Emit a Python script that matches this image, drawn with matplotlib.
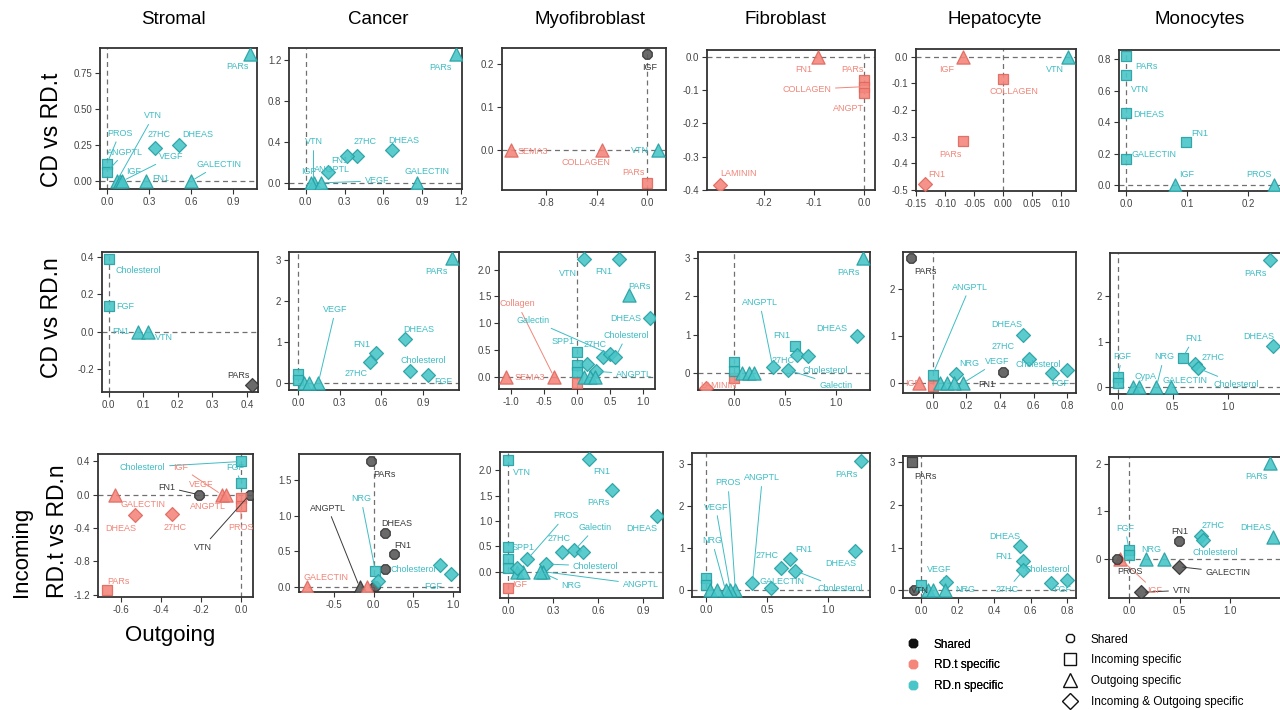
import matplotlib
matplotlib.use("Agg")
import matplotlib.pyplot as plt
from matplotlib.lines import Line2D

plt.rcParams['font.family'] = ['Liberation Sans', 'DejaVu Sans']
plt.rcParams['axes.unicode_minus'] = False

cell_types = ["Stromal", "Cancer", "Myofibroblast", "Fibroblast", "Hepatocyte", "Monocytes"]
comparisons = ["CD vs RD.t", "CD vs RD.n", "RD.t vs RD.n"]

# point rows: (signal, outgoing, incoming, group, kind)
# group: s = shared, t = RD.t specific, n = RD.n specific
# kind: sh = shared, in = incoming specific, out = outgoing specific, io = incoming & outgoing
stromal_t = [("PARs", 1.02, 0.88, 'n', 'out'), ("DHEAS", 0.51, 0.25, 'n', 'io'),
             ("27HC", 0.34, 0.23, 'n', 'io'), ("VTN", 0.07, 0.0, 'n', 'out'),
             ("IGF", 0.09, 0.0, 'n', 'out'), ("VEGF", 0.11, 0.0, 'n', 'out'),
             ("FN1", 0.28, 0.0, 'n', 'out'), ("GALECTIN", 0.60, 0.0, 'n', 'out'),
             ("PROS", 0.0, 0.12, 'n', 'in'), ("ANGPTL", 0.0, 0.065, 'n', 'in')]
cancer_t = [("PARs", 1.16, 1.26, 'n', 'out'), ("DHEAS", 0.67, 0.32, 'n', 'io'),
            ("27HC", 0.40, 0.26, 'n', 'io'), ("FN1", 0.32, 0.26, 'n', 'io'),
            ("ANGPTL", 0.17, 0.11, 'n', 'io'), ("VTN", 0.06, 0.0, 'n', 'out'),
            ("IGF", 0.04, 0.0, 'n', 'out'), ("VEGF", 0.12, 0.0, 'n', 'out'),
            ("GALECTIN", 0.86, 0.0, 'n', 'out')]
myo_t = [("IGF", 0.0, 0.221, 's', 'sh'), ("SEMA3", -1.08, 0.0, 't', 'out'),
         ("COLLAGEN", -0.36, 0.0, 't', 'out'), ("VTN", 0.087, 0.0, 'n', 'out'),
         ("PARs", 0.0, -0.076, 't', 'in')]
fib_t = [("FN1", -0.092, 0.0, 't', 'out'), ("PARs", 0.0, -0.07, 't', 'in'),
         ("COLLAGEN", 0.0, -0.09, 't', 'in'), ("ANGPT", 0.0, -0.11, 't', 'in'),
         ("LAMININ", -0.286, -0.384, 't', 'io')]
hep_t = [("IGF", -0.07, 0.0, 't', 'out'), ("VTN", 0.112, 0.0, 'n', 'out'),
         ("COLLAGEN", 0.0, -0.084, 't', 'in'), ("PARs", -0.069, -0.316, 't', 'in'),
         ("FN1", -0.135, -0.478, 't', 'io')]
mono_t = [("PARs", 0.0, 0.822, 'n', 'in'), ("VTN", 0.0, 0.70, 'n', 'in'),
          ("DHEAS", 0.0, 0.46, 'n', 'in'), ("FN1", 0.098, 0.275, 'n', 'in'),
          ("GALECTIN", 0.0, 0.165, 'n', 'in'), ("IGF", 0.079, 0.0, 'n', 'out'),
          ("PROS", 0.242, 0.0, 'n', 'out')]

stromal_n = [("Cholesterol", 0.0, 0.39, 'n', 'in'), ("FGF", 0.0, 0.137, 'n', 'in'),
             ("FN1", 0.084, 0.0, 'n', 'out'), ("VTN", 0.115, 0.0, 'n', 'out'),
             ("PARs", 0.415, -0.284, 's', 'io')]
cancer_n = [("PARs", 1.11, 3.05, 'n', 'out'), ("DHEAS", 0.77, 1.09, 'n', 'io'),
            ("FN1", 0.56, 0.73, 'n', 'io'), ("27HC", 0.52, 0.52, 'n', 'io'),
            ("Cholesterol", 0.81, 0.30, 'n', 'io'), ("FGF", 0.94, 0.20, 'n', 'io'),
            ("VEGF", 0.145, 0.0, 'n', 'out'), ("", 0.0, 0.24, 'n', 'in'),
            ("", 0.0, 0.08, 'n', 'in'), ("", 0.04, 0.0, 'n', 'out'), ("", 0.08, 0.0, 'n', 'out')]
myo_n = [("VTN", 0.10, 2.19, 'n', 'io'), ("FN1", 0.63, 2.20, 'n', 'io'),
         ("PARs", 0.79, 1.53, 'n', 'out'), ("DHEAS", 1.11, 1.09, 'n', 'io'),
         ("SEMA3", -1.07, 0.0, 't', 'out'), ("Collagen", -0.35, 0.0, 't', 'out'),
         ("27HC", 0.40, 0.37, 'n', 'io'), ("Galectin", 0.50, 0.42, 'n', 'io'),
         ("Cholesterol", 0.58, 0.36, 'n', 'io'), ("SPP1", 0.0, 0.47, 'n', 'in'),
         ("ANGPTL", 0.29, 0.10, 'n', 'io'), ("", 0.15, 0.24, 'n', 'io'),
         ("", 0.0, 0.22, 'n', 'in'), ("", 0.0, 0.09, 'n', 'in'), ("", 0.0, -0.12, 't', 'in'),
         ("", 0.10, 0.0, 'n', 'out'), ("", 0.20, 0.0, 'n', 'out'), ("", 0.27, 0.0, 'n', 'out')]
fib_n = [("PARs", 1.27, 3.0, 'n', 'out'), ("DHEAS", 1.21, 0.96, 'n', 'io'),
         ("FN1", 0.60, 0.72, 'n', 'in'), ("27HC", 0.62, 0.48, 'n', 'io'),
         ("Cholesterol", 0.73, 0.44, 'n', 'io'), ("Galectin", 0.53, 0.08, 'n', 'io'),
         ("ANGPTL", 0.38, 0.15, 'n', 'io'), ("LAMININ", -0.28, -0.38, 't', 'io'),
         ("", 0.0, -0.12, 't', 'in'), ("", 0.0, 0.28, 'n', 'in'), ("", 0.0, 0.06, 'n', 'in'),
         ("", 0.07, 0.0, 'n', 'out'), ("", 0.14, 0.0, 'n', 'out'), ("", 0.19, 0.0, 'n', 'out')]
hep_n = [("PARs", -0.128, 2.66, 's', 'sh'), ("ANGPTL", 0.0, 0.18, 'n', 'in'),
         ("DHEAS", 0.54, 1.03, 'n', 'io'), ("27HC", 0.57, 0.51, 'n', 'io'),
         ("Cholesterol", 0.71, 0.21, 'n', 'io'), ("FGF", 0.80, 0.27, 'n', 'io'),
         ("NRG", 0.14, 0.19, 'n', 'io'), ("VEGF", 0.18, 0.0, 'n', 'out'),
         ("FN1", 0.42, 0.23, 's', 'sh'), ("IGF", -0.083, 0.0, 't', 'out'),
         ("", 0.0, -0.07, 't', 'in'), ("", 0.045, 0.0, 'n', 'out'),
         ("", 0.085, 0.0, 'n', 'out'), ("", 0.125, 0.0, 'n', 'out')]
mono_n = [("PARs", 1.385, 2.79, 'n', 'io'), ("DHEAS", 1.415, 0.90, 'n', 'io'),
          ("FN1", 0.59, 0.65, 'n', 'in'), ("27HC", 0.70, 0.51, 'n', 'io'),
          ("Cholesterol", 0.73, 0.42, 'n', 'io'), ("NRG", 0.35, 0.0, 'n', 'out'),
          ("CypA", 0.14, 0.0, 'n', 'out'), ("GALECTIN", 0.48, 0.0, 'n', 'out'),
          ("FGF", 0.0, 0.23, 'n', 'in'), ("", 0.0, 0.09, 'n', 'in'), ("", 0.19, 0.0, 'n', 'out')]

stromal_tn = [("Cholesterol", 0.0, 0.40, 'n', 'in'), ("FGF", 0.0, 0.145, 'n', 'in'),
              ("FN1", -0.21, 0.0, 's', 'sh'), ("VTN", 0.043, 0.0, 's', 'sh'),
              ("GALECTIN", -0.63, 0.0, 't', 'out'), ("IGF", -0.095, 0.0, 't', 'out'),
              ("VEGF", -0.075, 0.0, 't', 'out'), ("DHEAS", -0.53, -0.24, 't', 'io'),
              ("27HC", -0.344, -0.23, 't', 'io'), ("ANGPTL", 0.0, -0.045, 't', 'in'),
              ("PROS", 0.0, -0.14, 't', 'in'), ("PARs", -0.67, -1.14, 't', 'in')]
cancer_tn = [("PARs", -0.04, 1.77, 's', 'sh'), ("DHEAS", 0.14, 0.76, 's', 'sh'),
             ("FN1", 0.26, 0.46, 's', 'sh'), ("", 0.14, 0.26, 's', 'sh'),
             ("", 0.01, 0.02, 's', 'sh'), ("ANGPTL", -0.18, 0.0, 's', 'out'),
             ("NRG", 0.02, 0.23, 'n', 'in'), ("", 0.05, 0.09, 'n', 'io'),
             ("Cholesterol", 0.84, 0.31, 'n', 'io'), ("FGF", 0.98, 0.19, 'n', 'io'),
             ("GALECTIN", -0.85, 0.0, 't', 'out'), ("", -0.09, 0.0, 't', 'out')]
myo_tn = [("VTN", 0.0, 2.20, 'n', 'in'), ("FN1", 0.54, 2.23, 'n', 'io'),
          ("PARs", 0.69, 1.62, 'n', 'io'), ("DHEAS", 0.99, 1.10, 'n', 'io'),
          ("PROS", 0.127, 0.245, 'n', 'io'), ("27HC", 0.355, 0.38, 'n', 'io'),
          ("Galectin", 0.44, 0.42, 'n', 'io'), ("", 0.50, 0.38, 'n', 'io'),
          ("Cholesterol", 0.25, 0.15, 'n', 'io'), ("ANGPTL", 0.233, 0.0, 'n', 'out'),
          ("NRG", 0.21, 0.0, 'n', 'out'), ("SPP1", 0.0, 0.49, 'n', 'in'),
          ("", 0.0, 0.245, 'n', 'in'), ("", 0.0, 0.08, 'n', 'in'), ("IGF", 0.0, -0.32, 't', 'in'),
          ("", 0.055, 0.0, 'n', 'out'), ("", 0.10, 0.0, 'n', 'out'), ("", 0.055, 0.08, 'n', 'io')]
fib_tn = [("PARs", 1.27, 3.06, 'n', 'io'), ("DHEAS", 1.22, 0.94, 'n', 'io'),
          ("FN1", 0.69, 0.75, 'n', 'io'), ("27HC", 0.61, 0.52, 'n', 'io'),
          ("Cholesterol", 0.73, 0.46, 'n', 'io'), ("GALECTIN", 0.53, 0.06, 'n', 'io'),
          ("ANGPTL", 0.38, 0.16, 'n', 'io'), ("PROS", 0.24, 0.0, 'n', 'out'),
          ("VEGF", 0.20, 0.0, 'n', 'out'), ("NRG", 0.16, 0.0, 'n', 'out'),
          ("", 0.0, 0.28, 'n', 'in'), ("", 0.0, 0.12, 'n', 'in'),
          ("", 0.035, 0.0, 'n', 'out'), ("", 0.09, 0.0, 'n', 'out')]
hep_tn = [("PARs", -0.05, 3.0, 's', 'in'), ("DHEAS", 0.54, 1.05, 'n', 'io'),
          ("FN1", 0.56, 0.68, 'n', 'io'), ("27HC", 0.56, 0.47, 'n', 'io'),
          ("Cholesterol", 0.71, 0.17, 'n', 'io'), ("FGF", 0.80, 0.25, 'n', 'io'),
          ("VEGF", 0.138, 0.19, 'n', 'io'), ("NRG", 0.133, 0.0, 'n', 'out'),
          ("VTN", -0.038, 0.0, 's', 'sh'), ("", 0.0, 0.13, 'n', 'in'),
          ("", 0.04, 0.0, 'n', 'out'), ("", 0.067, 0.0, 'n', 'out')]
mono_tn = [("PARs", 1.40, 2.01, 'n', 'out'), ("DHEAS", 1.43, 0.46, 'n', 'out'),
           ("FN1", 0.49, 0.38, 's', 'sh'), ("27HC", 0.71, 0.48, 'n', 'io'),
           ("Cholesterol", 0.73, 0.40, 'n', 'io'), ("NRG", 0.166, 0.0, 'n', 'out'),
           ("", 0.35, 0.0, 'n', 'out'), ("FGF", 0.0, 0.18, 'n', 'in'), ("", 0.0, 0.08, 'n', 'in'),
           ("GALECTIN", 0.49, -0.17, 's', 'io'), ("VTN", 0.12, -0.71, 's', 'io'),
           ("IGF", -0.09, 0.0, 't', 'out'), ("PROS", -0.12, 0.0, 's', 'sh')]

# label placement (data coords); a third item 1 draws a leader segment
stromal_t_lbl = {"PARs": (0.93, 0.79), "DHEAS": (0.65, 0.32), "27HC": (0.37, 0.32),
                 "VTN": (0.33, 0.45, 1), "IGF": (0.19, 0.065, 1), "VEGF": (0.46, 0.17, 1),
                 "FN1": (0.38, 0.015), "GALECTIN": (0.80, 0.115, 1), "PROS": (0.09, 0.33, 1),
                 "ANGPTL": (0.13, 0.20, 1)}
cancer_t_lbl = {"PARs": (1.04, 1.13), "DHEAS": (0.76, 0.41), "27HC": (0.46, 0.40),
                "FN1": (0.26, 0.22), "ANGPTL": (0.20, 0.13), "VTN": (0.06, 0.40, 1),
                "IGF": (0.02, 0.11), "VEGF": (0.55, 0.02, 1), "GALECTIN": (0.94, 0.11)}
myo_t_lbl = {"IGF": (0.02, 0.19), "SEMA3": (-0.91, -0.003), "COLLAGEN": (-0.49, -0.028),
             "VTN": (-0.06, 0.0), "PARs": (-0.11, -0.051)}
fib_t_lbl = {"FN1": (-0.12, -0.038), "PARs": (-0.023, -0.038), "COLLAGEN": (-0.114, -0.098, 1),
             "ANGPT": (-0.032, -0.155), "LAMININ": (-0.25, -0.352)}
hep_t_lbl = {"IGF": (-0.097, -0.048), "VTN": (0.089, -0.048), "COLLAGEN": (0.019, -0.131),
             "PARs": (-0.091, -0.366), "FN1": (-0.114, -0.441)}
mono_t_lbl = {"PARs": (0.033, 0.75), "VTN": (0.022, 0.61), "DHEAS": (0.037, 0.45),
              "FN1": (0.12, 0.33), "GALECTIN": (0.046, 0.195), "IGF": (0.098, 0.064),
              "PROS": (0.218, 0.064)}

stromal_n_lbl = {"Cholesterol": (0.087, 0.33), "FGF": (0.048, 0.133), "FN1": (0.034, 0.0),
                 "VTN": (0.16, -0.027), "PARs": (0.374, -0.231)}
cancer_n_lbl = {"PARs": (1.0, 2.72), "DHEAS": (0.87, 1.31), "FN1": (0.46, 0.95),
                "27HC": (0.42, 0.23), "Cholesterol": (0.90, 0.55), "FGF": (1.05, 0.04),
                "VEGF": (0.27, 1.79, 1)}
myo_n_lbl = {"VTN": (-0.13, 1.93), "FN1": (0.40, 1.97), "PARs": (0.95, 1.69),
             "DHEAS": (0.74, 1.08), "SEMA3": (-0.72, -0.01), "Collagen": (-0.90, 1.36, 1),
             "27HC": (0.27, 0.60), "Galectin": (-0.66, 1.05, 1), "Cholesterol": (0.75, 0.77, 1),
             "SPP1": (-0.21, 0.65), "ANGPTL": (0.86, 0.05, 1)}
fib_n_lbl = {"PARs": (1.13, 2.62), "DHEAS": (0.96, 1.16), "FN1": (0.47, 0.98),
             "27HC": (0.48, 0.32), "Cholesterol": (0.90, 0.06), "Galectin": (1.0, -0.31, 1),
             "ANGPTL": (0.25, 1.84, 1), "LAMININ": (-0.16, -0.33)}
hep_n_lbl = {"PARs": (-0.04, 2.38), "ANGPTL": (0.22, 2.04, 1), "DHEAS": (0.44, 1.24),
             "27HC": (0.42, 0.78), "Cholesterol": (0.63, 0.39), "FGF": (0.76, -0.01),
             "NRG": (0.22, 0.41), "VEGF": (0.385, 0.46, 1), "FN1": (0.32, -0.035),
             "IGF": (-0.12, -0.01)}
mono_n_lbl = {"PARs": (1.25, 2.51), "DHEAS": (1.28, 1.12), "FN1": (0.69, 1.07, 1),
              "27HC": (0.87, 0.65), "Cholesterol": (1.08, 0.07, 1), "NRG": (0.42, 0.67, 1),
              "CypA": (0.25, 0.23, 1), "GALECTIN": (0.61, 0.16), "FGF": (0.04, 0.67, 1)}

stromal_tn_lbl = {"Cholesterol": (-0.49, 0.33, 1), "FGF": (-0.03, 0.33, 1), "FN1": (-0.37, 0.09, 1),
                  "VTN": (-0.19, -0.63, 1), "GALECTIN": (-0.49, -0.12), "IGF": (-0.30, 0.33, 1),
                  "VEGF": (-0.20, 0.125), "DHEAS": (-0.60, -0.41), "27HC": (-0.33, -0.40),
                  "ANGPTL": (-0.164, -0.145), "PROS": (0.0, -0.40, 1), "PARs": (-0.61, -1.04)}
cancer_tn_lbl = {"PARs": (0.14, 1.58), "DHEAS": (0.29, 0.90), "FN1": (0.37, 0.59),
                 "ANGPTL": (-0.58, 1.11, 1), "NRG": (-0.16, 1.24, 1), "Cholesterol": (0.50, 0.25),
                 "FGF": (0.75, 0.01), "GALECTIN": (-0.61, 0.14)}
myo_tn_lbl = {"VTN": (0.09, 1.95), "FN1": (0.62, 1.98), "PARs": (0.60, 1.37),
              "DHEAS": (0.89, 0.85), "PROS": (0.38, 1.10, 1), "27HC": (0.34, 0.66),
              "Galectin": (0.58, 0.87, 1), "Cholesterol": (0.58, 0.11, 1),
              "ANGPTL": (0.88, -0.25, 1), "NRG": (0.42, -0.28, 1), "SPP1": (0.10, 0.48),
              "IGF": (0.078, -0.25)}
fib_tn_lbl = {"PARs": (1.15, 2.74), "DHEAS": (1.10, 0.63), "FN1": (0.80, 0.97),
              "27HC": (0.50, 0.82), "Cholesterol": (1.10, 0.04, 1), "GALECTIN": (0.62, 0.20),
              "ANGPTL": (0.46, 2.66, 1), "PROS": (0.18, 2.54, 1), "VEGF": (0.08, 1.97, 1),
              "NRG": (0.05, 1.17, 1)}
hep_tn_lbl = {"PARs": (0.027, 2.66), "DHEAS": (0.46, 1.26), "FN1": (0.45, 0.80),
              "Cholesterol": (0.69, 0.50), "27HC": (0.47, 0.015, 1), "FGF": (0.77, 0.02),
              "VEGF": (0.10, 0.50, 1), "NRG": (0.24, 0.015), "VTN": (-0.005, 0.0)}
mono_tn_lbl = {"PARs": (1.26, 1.72), "DHEAS": (1.26, 0.65), "FN1": (0.50, 0.58),
               "27HC": (0.83, 0.69), "Cholesterol": (0.85, 0.13), "NRG": (0.22, 0.20),
               "FGF": (-0.04, 0.64, 1), "GALECTIN": (0.98, -0.29, 1), "VTN": (0.52, -0.67, 1),
               "IGF": (0.25, -0.67, 1), "PROS": (0.01, -0.27)}

panels = [
    [(stromal_t, stromal_t_lbl), (cancer_t, cancer_t_lbl), (myo_t, myo_t_lbl),
     (fib_t, fib_t_lbl), (hep_t, hep_t_lbl), (mono_t, mono_t_lbl)],
    [(stromal_n, stromal_n_lbl), (cancer_n, cancer_n_lbl), (myo_n, myo_n_lbl),
     (fib_n, fib_n_lbl), (hep_n, hep_n_lbl), (mono_n, mono_n_lbl)],
    [(stromal_tn, stromal_tn_lbl), (cancer_tn, cancer_tn_lbl), (myo_tn, myo_tn_lbl),
     (fib_tn, fib_tn_lbl), (hep_tn, hep_tn_lbl), (mono_tn, mono_tn_lbl)],
]

# layout: pixel box (left, top, right, bottom), xlim, ylim, xticks, yticks, formats
W, H = 1280, 710
layout = [
    [((100, 48, 257, 189), (-0.05, 1.07), (-0.055, 0.92), [0, 0.3, 0.6, 0.9], [0, 0.25, 0.5, 0.75], '%.1f', '%.2f'),
     ((289, 48, 462, 189), (-0.13, 1.21), (-0.06, 1.32), [0, 0.3, 0.6, 0.9, 1.2], [0, 0.4, 0.8, 1.2], '%.1f', '%.1f'),
     ((502, 48, 666, 190), (-1.15, 0.147), (-0.092, 0.236), [-0.8, -0.4, 0.0], [0, 0.1, 0.2], '%.1f', '%.1f'),
     ((707, 50, 875, 190), (-0.312, 0.021), (-0.399, 0.02), [-0.2, -0.1, 0.0], [0, -0.1, -0.2, -0.3, -0.4], '%.1f', '%.1f'),
     ((916, 49, 1076, 191), (-0.146, 0.125), (-0.504, 0.029), [-0.15, -0.1, -0.05, 0, 0.05, 0.1], [0, -0.1, -0.2, -0.3, -0.4, -0.5], '%.2f', '%.1f'),
     ((1119, 50, 1285, 191), (-0.012, 0.26), (-0.038, 0.858), [0, 0.1, 0.2], [0, 0.2, 0.4, 0.6, 0.8], '%.1f', '%.1f')],
    [((102, 252, 258, 392), (-0.019, 0.432), (-0.32, 0.426), [0, 0.1, 0.2, 0.3, 0.4], [-0.2, 0, 0.2, 0.4], '%.1f', '%.1f'),
     ((289, 252, 459, 390), (-0.065, 1.16), (-0.16, 3.19), [0, 0.3, 0.6, 0.9], [0, 1, 2, 3], '%.1f', '%d'),
     ((499, 252, 655, 389), (-1.18, 1.18), (-0.23, 2.33), [-1, -0.5, 0, 0.5, 1], [0, 0.5, 1, 1.5, 2], '%.1f', '%.1f'),
     ((698, 252, 870, 390), (-0.36, 1.34), (-0.44, 3.16), [0, 0.5, 1], [0, 1, 2, 3], '%.1f', '%d'),
     ((903, 252, 1076, 393), (-0.176, 0.852), (-0.21, 2.79), [0, 0.2, 0.4, 0.6, 0.8], [0, 1, 2], '%.1f', '%d'),
     ((1110, 253, 1285, 394), (-0.07, 1.52), (-0.146, 2.95), [0, 0.5, 1], [0, 1, 2], '%.1f', '%d')],
    [((98, 454, 253, 597), (-0.713, 0.06), (-1.23, 0.49), [-0.6, -0.4, -0.2, 0], [0.4, 0, -0.4, -0.8, -1.2], '%.1f', '%.1f'),
     ((299, 454, 460, 592), (-0.945, 1.09), (-0.07, 1.87), [-0.5, 0, 0.5, 1], [0, 0.5, 1, 1.5], '%.1f', '%.1f'),
     ((500, 452, 663, 598), (-0.056, 1.03), (-0.52, 2.36), [0, 0.3, 0.6, 0.9], [0, 0.5, 1, 1.5, 2], '%.1f', '%.1f'),
     ((692, 453, 870, 597), (-0.114, 1.34), (-0.16, 3.25), [0, 0.5, 1], [0, 1, 2, 3], '%.1f', '%d'),
     ((903, 456, 1076, 598), (-0.098, 0.847), (-0.18, 3.15), [0, 0.2, 0.4, 0.6, 0.8], [0, 1, 2, 3], '%.1f', '%d'),
     ((1109, 457, 1285, 598), (-0.2, 1.546), (-0.83, 2.14), [0, 0.5, 1], [0, 1, 2], '%.1f', '%d')],
]

FILL = {'s': '#5a5a5a', 't': '#F4867C', 'n': '#4AC6C8'}
EDGE = {'s': '#333333', 't': '#E0685E', 'n': '#25A0A3'}
TXT = {'s': '#3a3a3a', 't': '#F08679', 'n': '#3DBDC4'}
MARK = {'sh': '8', 'in': 's', 'out': '^', 'io': 'D'}
SIZE = {'sh': 55, 'in': 45, 'out': 90, 'io': 50}

fig = plt.figure(figsize=(12.8, 7.1), dpi=100)


def draw_panel(ax, pts, lbls, xlim, ylim, xt, yt, xf, yf):
    ax.axhline(0, color='#707070', lw=0.9, ls=(0, (4, 3)), zorder=1)
    ax.axvline(0, color='#707070', lw=0.9, ls=(0, (4, 3)), zorder=1)
    for name, x, y, g, k in pts:
        ax.scatter(x, y, marker=MARK[k], s=SIZE[k], c=FILL[g], edgecolors=EDGE[g],
                   linewidths=0.9, alpha=0.9, zorder=3)
    for name, x, y, g, k in pts:
        if not name:
            continue
        pos = lbls[name]
        if len(pos) == 3:
            t = ax.annotate(name, xy=(x, y), xytext=(pos[0], pos[1]), fontsize=6.5,
                            color=TXT[g], ha='center', va='center', zorder=4,
                            arrowprops=dict(arrowstyle='-', color=TXT[g], lw=0.7,
                                            shrinkA=1, shrinkB=3))
        else:
            t = ax.text(pos[0], pos[1], name, fontsize=6.5, color=TXT[g],
                        ha='center', va='center', zorder=4)
        t.set_clip_on(True)
    ax.set_xlim(xlim)
    ax.set_ylim(ylim)
    ax.set_xticks(xt)
    ax.set_yticks(yt)
    ax.set_xticklabels([xf % v for v in xt])
    ax.set_yticklabels([yf % v for v in yt])
    ax.tick_params(labelsize=7, length=3.5, width=0.8, colors='#333333',
                   labelcolor='#444444', pad=2)
    for sp in ax.spines.values():
        sp.set_linewidth(1.3)
        sp.set_color('#333333')


for r in range(3):
    for c in range(6):
        (l, t, rt, b), xlim, ylim, xt, yt, xf, yf = layout[r][c]
        ax = fig.add_axes([l / W, 1 - b / H, (rt - l) / W, (b - t) / H])
        pts, lbls = panels[r][c]
        draw_panel(ax, pts, lbls, xlim, ylim, xt, yt, xf, yf)

title_x = [173, 378, 590, 785, 995, 1200]
for name, x in zip(cell_types, title_x):
    fig.text(x / W, 1 - 20 / H, name, ha='center', va='center', fontsize=13.5)

row_pos = [(52, 130), (52, 318), (58, 531)]
for name, (x, y) in zip(comparisons, row_pos):
    fig.text(x / W, 1 - y / H, name, ha='center', va='center', fontsize=16.5, rotation=90)
fig.text(22 / W, 1 - 552 / H, "Incoming", ha='center', va='center', fontsize=16, rotation=90)
fig.text(170 / W, 1 - 636 / H, "Outgoing", ha='center', va='center', fontsize=16)

col_handles = [Line2D([], [], ls='', marker='8', ms=7, color=FILL[g], mec=FILL[g])
               for g in ['s', 't', 'n']]
col_handles[0].set_color('#111111')
col_handles[0].set_mec('#111111')
leg1 = fig.legend(col_handles, ["Shared", "RD.t specific", "RD.n specific"],
                  loc='upper left', bbox_to_anchor=(895 / W, 1 - 628 / H), frameon=False,
                  fontsize=8.5, handletextpad=1.2, labelspacing=0.75, handlelength=1.2)
shape_handles = [Line2D([], [], ls='', marker=m, ms=s, mfc='none', mec='#111111', mew=1.0)
                 for m, s in [('8', 7), ('s', 8), ('^', 10), ('D', 8)]]
fig.legend(shape_handles, ["Shared", "Incoming specific", "Outgoing specific",
                           "Incoming & Outgoing specific"],
           loc='upper left', bbox_to_anchor=(1052 / W, 1 - 623 / H), frameon=False,
           fontsize=8.5, handletextpad=1.2, labelspacing=0.75, handlelength=1.2)
fig.add_artist(leg1)

fig.savefig("out.png", dpi=100)
